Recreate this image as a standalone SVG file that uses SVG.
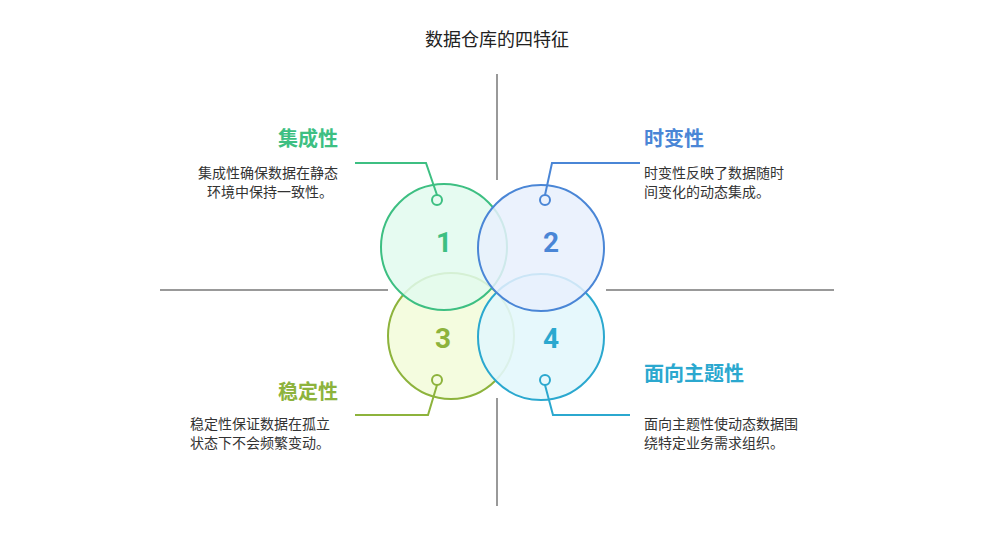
<svg xmlns="http://www.w3.org/2000/svg" width="998" height="538" viewBox="0 0 998 538">
<style>
text{font-family:"Noto Sans CJK SC","Noto Sans",sans-serif}
.ax{stroke:#999;stroke-width:2}
.t{font-size:20px;font-weight:bold}
.d{font-size:14px;fill:#333}
.n{font-size:28px;font-weight:bold;font-family:Roboto,"Noto Sans",sans-serif}
.c{stroke-width:2;fill:none}
</style>
<rect width="998" height="538" fill="#fff"/>
<text x="497" y="46" text-anchor="middle" font-size="18" fill="#222">数据仓库的四特征</text>
<g id="axes">
<line class="ax" x1="497" y1="74" x2="497" y2="180"/>
<line class="ax" x1="497" y1="398" x2="497" y2="506"/>
<line class="ax" x1="160" y1="290" x2="388" y2="290"/>
<line class="ax" x1="606" y1="290" x2="834" y2="290"/>
</g>
<g id="n3"><circle cx="451" cy="336" r="63" fill="#f3fcdc" fill-opacity="0.9" stroke="#8db33c" stroke-width="2"/></g>
<g id="n4"><circle cx="541" cy="337" r="63" fill="#e3f7fc" fill-opacity="0.9" stroke="#2ba8cf" stroke-width="2"/></g>
<g id="n1"><circle cx="444" cy="247" r="63" fill="#e2faee" fill-opacity="0.85" stroke="#3dbf82" stroke-width="2"/></g>
<g id="n2"><circle cx="541" cy="248" r="63" fill="#e8f0fd" fill-opacity="0.85" stroke="#4a86d6" stroke-width="2"/></g>
<text class="n" x="444" y="252" text-anchor="middle" fill="#3dbf82">1</text>
<text class="n" x="551" y="252" text-anchor="middle" fill="#4a86d6">2</text>
<text class="n" x="443" y="348" text-anchor="middle" fill="#8db33c">3</text>
<text class="n" x="551" y="348" text-anchor="middle" fill="#2ba8cf">4</text>
<g id="connectors">
<polyline class="c" stroke="#3dbf82" points="437,195 426,163 355,163"/>
<circle class="c" stroke="#3dbf82" cx="437" cy="200" r="5"/>
<polyline class="c" stroke="#4a86d6" points="545,195 552,163 640,163"/>
<circle class="c" stroke="#4a86d6" cx="545" cy="200" r="5"/>
<polyline class="c" stroke="#8db33c" points="437,385 428,415 355,415"/>
<circle class="c" stroke="#8db33c" cx="437" cy="380" r="5"/>
<polyline class="c" stroke="#2ba8cf" points="545,385 553,415 630,415"/>
<circle class="c" stroke="#2ba8cf" cx="545" cy="380" r="5"/>
</g>
<g id="l1"><text class="t" x="338" y="146" text-anchor="end" fill="#3dbf82">集成性</text>
<text class="d" x="338" y="178" text-anchor="end">集成性确保数据在静态</text><text class="d" x="333" y="197" text-anchor="end">环境中保持一致性。</text></g>
<g id="l2"><text class="t" x="644" y="146" fill="#4a86d6">时变性</text>
<text class="d" x="644" y="178">时变性反映了数据随时</text><text class="d" x="644" y="197">间变化的动态集成。</text></g>
<g id="l3"><text class="t" x="338" y="399" text-anchor="end" fill="#8db33c">稳定性</text>
<text class="d" x="190" y="429">稳定性保证数据在孤立</text><text class="d" x="190" y="448">状态下不会频繁变动。</text></g>
<g id="l4"><text class="t" x="644" y="381" fill="#2ba8cf">面向主题性</text>
<text class="d" x="644" y="429">面向主题性使动态数据围</text><text class="d" x="644" y="448">绕特定业务需求组织。</text></g>
</svg>
